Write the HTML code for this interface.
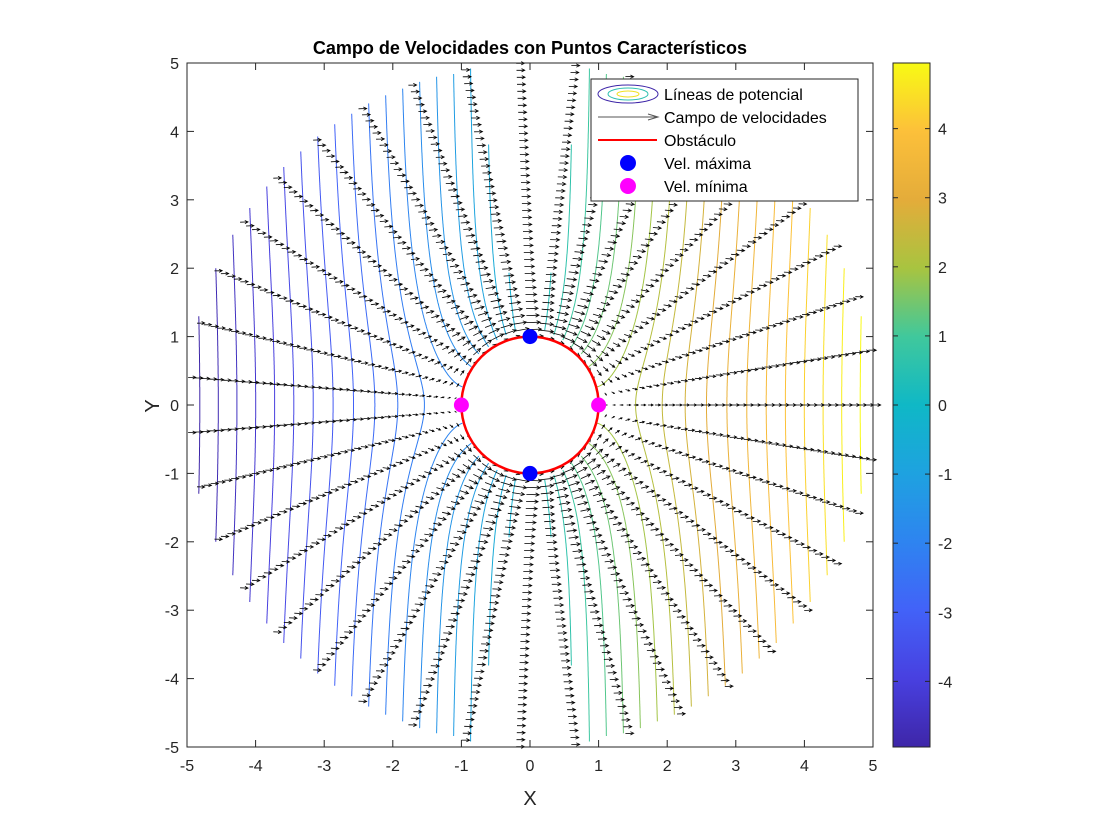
<!DOCTYPE html>
<html><head><meta charset="utf-8"><style>
body{margin:0;background:#fff;}
svg{display:block;font-family:"Liberation Sans",Arial,sans-serif;}
</style></head><body>
<svg id="s" width="1120" height="840" xmlns="http://www.w3.org/2000/svg">
<rect width="1120" height="840" fill="#fff"/>
<g id="plot"></g>
<rect x="187" y="63" width="686" height="684" fill="none" stroke="#262626" stroke-width="1"/>
<g id="ticks" font-size="16" fill="#262626"></g>
<text x="530" y="54" text-anchor="middle" font-size="18" font-weight="bold" fill="#000">Campo de Velocidades con Puntos Característicos</text>
<text x="530" y="805" text-anchor="middle" font-size="20" fill="#262626">X</text>
<text x="152" y="406" text-anchor="middle" font-size="20" fill="#262626" transform="rotate(-90 152 406)" dy="7">Y</text>
<defs><linearGradient id="par" x1="0" y1="1" x2="0" y2="0">
<stop offset="0" stop-color="#3e26a8"/><stop offset="0.1" stop-color="#4840e0"/><stop offset="0.2" stop-color="#4262f8"/><stop offset="0.3" stop-color="#2e84f0"/><stop offset="0.4" stop-color="#1ea2e0"/><stop offset="0.5" stop-color="#0fb8c6"/><stop offset="0.6" stop-color="#40c89c"/><stop offset="0.7" stop-color="#a8c440"/><stop offset="0.8" stop-color="#e4ac3a"/><stop offset="0.9" stop-color="#fcc03a"/><stop offset="1" stop-color="#f8fa14"/>
</linearGradient></defs>
<rect x="893" y="63" width="37" height="684" fill="url(#par)" stroke="#262626" stroke-width="1"/>
<g id="cb" font-size="16" fill="#262626"></g>
<g>
<rect x="591" y="79" width="267" height="122" fill="#fff" stroke="#262626" stroke-width="1"/>
<ellipse cx="628" cy="94" rx="30" ry="9" fill="none" stroke="#3e26a8" stroke-width="1"/>
<ellipse cx="628" cy="94" rx="20" ry="6" fill="none" stroke="#2ec0b0" stroke-width="1"/>
<ellipse cx="628" cy="94" rx="11" ry="3" fill="none" stroke="#f0e020" stroke-width="1"/>
<line x1="598" y1="117" x2="657" y2="117" stroke="#555" stroke-width="1"/>
<path d="M648 114 L658 117 L648 120" fill="none" stroke="#555"/>
<line x1="598" y1="140" x2="657" y2="140" stroke="#f00" stroke-width="2"/>
<circle cx="628" cy="163" r="8" fill="#0000ff"/>
<circle cx="628" cy="186" r="8" fill="#ff00ff"/>
<g font-size="16" fill="#000">
<text x="664" y="100">Líneas de potencial</text>
<text x="664" y="123">Campo de velocidades</text>
<text x="664" y="146">Obstáculo</text>
<text x="664" y="169">Vel. máxima</text>
<text x="664" y="192">Vel. mínima</text>
</g></g>
</svg>
<script>
var NS="http://www.w3.org/2000/svg";
function X(x){return 530+x*68.6;} function Y(y){return 405-y*68.4;}
var hx=["#3e26a8","#4840e0","#4262f8","#2e84f0","#1ea2e0","#0fb8c6","#40c89c","#a8c440","#e4ac3a","#fcc03a","#f8fa14"];
var stops=hx.map(function(c,i){return [i/10,[parseInt(c.substr(1,2),16),parseInt(c.substr(3,2),16),parseInt(c.substr(5,2),16)]];});
function col(t){t=Math.max(0,Math.min(1,t));for(var i=1;i<stops.length;i++){if(t<=stops[i][0]+1e-9){var a=stops[i-1],b=stops[i],f=(t-a[0])/(b[0]-a[0]);return "rgb("+a[1].map(function(v,k){return Math.round(v+(b[1][k]-v)*f)}).join(",")+")";}}}
var g=document.getElementById("plot"),h="";
var L=40,mn=-5.15,mx=5.15;
for(var i=0;i<L;i++){var c=mn+(mx-mn)*(i+0.5)/L;var d="",pen=false;
 for(var j=-900;j<=900;j++){var th=j/1000*Math.PI/2;var cs=Math.cos(th);if(cs<=1e-6){pen=false;continue;}
  var k=Math.abs(c)/cs;if(k<2){pen=false;continue;}var r=(k+Math.sqrt(k*k-4))/2;if(r>5){pen=false;continue;}
  var sg=c>0?1:-1;var x=sg*r*cs,y=r*Math.sin(th);
  d+=(pen?"L":"M")+X(x).toFixed(1)+" "+Y(y).toFixed(1);pen=true;}
 h+='<path d="'+d+'" fill="none" stroke="'+col((c+4.95)/9.9)+'" stroke-width="1"/>';}
var N=39,R=40,s=8;
for(var a=0;a<N;a++){var th=a*2*Math.PI/N;
 for(var q=0;q<R;q++){var r=1+4*q/(R-1);var x=r*Math.cos(th),y=r*Math.sin(th);
  var u=1-Math.cos(2*th)/(r*r),v=-Math.sin(2*th)/(r*r);
  var x0=X(x),y0=Y(y),dx=u*s,dy=-v*s,x1=x0+dx,y1=y0+dy,len=Math.hypot(dx,dy);if(len<0.5)continue;
  var ux=dx/len,uy=dy/len,hl=Math.min(3.5,len*0.4);
  h+='<path d="M'+x0.toFixed(1)+' '+y0.toFixed(1)+'L'+x1.toFixed(1)+' '+y1.toFixed(1)+'M'+(x1-hl*ux-hl*0.5*uy).toFixed(1)+' '+(y1-hl*uy+hl*0.5*ux).toFixed(1)+'L'+x1.toFixed(1)+' '+y1.toFixed(1)+'L'+(x1-hl*ux+hl*0.5*uy).toFixed(1)+' '+(y1-hl*uy-hl*0.5*ux).toFixed(1)+'" fill="none" stroke="#000" stroke-width="0.8"/>';}}
h+='<ellipse cx="530" cy="405" rx="68.6" ry="68.4" fill="#fff" stroke="#f00" stroke-width="2.5"/>';
h+='<circle cx="530" cy="336.6" r="7.5" fill="#0000ff"/><circle cx="530" cy="473.4" r="7.5" fill="#0000ff"/>';
h+='<circle cx="461.4" cy="405" r="7.5" fill="#ff00ff"/><circle cx="598.6" cy="405" r="7.5" fill="#ff00ff"/>';
g.innerHTML=h;
var t="";
for(var v=-5;v<=5;v++){var px=X(v),py=Y(v);
 t+='<line x1="'+px+'" y1="747" x2="'+px+'" y2="740" stroke="#262626"/><line x1="'+px+'" y1="63" x2="'+px+'" y2="70" stroke="#262626"/>';
 t+='<line x1="187" y1="'+py+'" x2="194" y2="'+py+'" stroke="#262626"/><line x1="873" y1="'+py+'" x2="866" y2="'+py+'" stroke="#262626"/>';
 t+='<text x="'+px+'" y="771" text-anchor="middle">'+v+'</text><text x="179" y="'+(py+6)+'" text-anchor="end">'+v+'</text>';}
document.getElementById("ticks").innerHTML=t;
var cb="";
for(var v=-4;v<=4;v++){var py=405-v*684/9.9;
 cb+='<line x1="930" y1="'+py+'" x2="925" y2="'+py+'" stroke="#262626"/><line x1="893" y1="'+py+'" x2="898" y2="'+py+'" stroke="#262626"/><text x="938" y="'+(py+6)+'">'+v+'</text>';}
document.getElementById("cb").innerHTML=cb;
</script>
</body></html>
